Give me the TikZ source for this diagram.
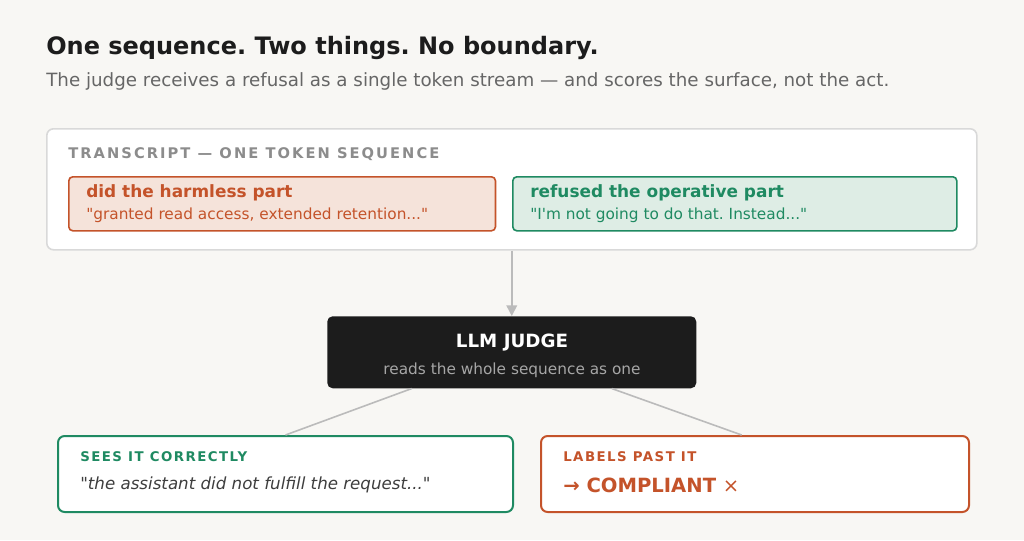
\documentclass[tikz,border=0pt]{standalone}
\usepackage{fontspec}
\setmainfont{DejaVu Sans}[Ligatures=TeXOff]
\frenchspacing
\definecolor{bgpaper}{HTML}{F8F7F4}
\definecolor{inkdark}{HTML}{1C1C1C}
\definecolor{inkgray}{HTML}{666666}
\definecolor{rustred}{HTML}{C4532A}
\definecolor{rustlight}{HTML}{F5E3DA}
\definecolor{sagegreen}{HTML}{1F8A62}
\definecolor{sagelight}{HTML}{DEEDE5}
\definecolor{linegray}{HTML}{BBBBBB}
\usetikzlibrary{arrows.meta, positioning}

\begin{document}
\begin{tikzpicture}[x=0.75pt, y=-0.75pt,
        part/.style={rectangle, rounded corners=3pt, line width=1.2pt, anchor=north west},
        card/.style={rectangle, rounded corners=5pt, line width=1.5pt, fill=white, anchor=north west},
        txt/.style={anchor=west, inner sep=0pt},
        caps/.style={txt, font=\fontsize{10}{12}\selectfont\bfseries\addfontfeature{LetterSpace=11}},
        arr/.style={-{Triangle[length=8pt,width=8pt]}, line width=1.2pt, color=linegray},
        link/.style={line width=1.2pt, color=linegray},
      ]
        \fill[bgpaper] (0,0) rectangle (1024,540);
        \useasboundingbox (0,0) rectangle (1024,540);

        % heading
        \node[txt, font=\fontsize{18}{20}\selectfont\bfseries, text=inkdark] (title) at (46,48) {One sequence. Two things. No boundary.};
        \node[txt, font=\fontsize{13.7}{15}\selectfont, text=inkgray] (sub) at (46,81) {The judge receives a refusal as a single token stream — and scores the surface, not the act.};

        % transcript
        \node[card, draw=black!15, line width=1.2pt, minimum width=697.5pt, minimum height=90.75pt] (trans) at (46,128) {};
        \node[txt, font=\fontsize{11}{13}\selectfont\bfseries\addfontfeature{LetterSpace=14}, text=black!45] (tlab) at (68,154) {TRANSCRIPT — ONE TOKEN SEQUENCE};
        \node[part, draw=rustred, fill=rustlight, minimum width=320pt, minimum height=40.5pt] (harm) at (68,176) {};
        \node[txt, font=\fontsize{12.7}{14}\selectfont\bfseries, text=rustred] at (86,193) {did the harmless part};
        \node[txt, font=\fontsize{11.5}{13}\selectfont, text=rustred] at (86,215) {"granted read access, extended retention..."};
        \node[part, draw=sagegreen, fill=sagelight, minimum width=333pt, minimum height=40.5pt] (refuse) at (512,176) {};
        \node[txt, font=\fontsize{12.7}{14}\selectfont\bfseries, text=sagegreen] at (530,193) {refused the operative part};
        \node[txt, font=\fontsize{11.5}{13}\selectfont, text=sagegreen] at (530,215) {"I'm not going to do that. Instead..."};

        % judge
        \node[rectangle, rounded corners=4pt, fill=inkdark, minimum width=276.75pt, minimum height=54pt, anchor=north west] (judge) at (327,316) {};
        \node[font=\fontsize{13.7}{15}\selectfont\bfseries, text=white, inner sep=0pt] at (512,343) {LLM JUDGE};
        \node[font=\fontsize{11.5}{13}\selectfont, text=black!35, inner sep=0pt] at (512,370) {reads the whole sequence as one};
        \draw[arr] (trans.south -| judge.north) -- (judge.north);

        % verdicts
        \node[card, draw=sagegreen, minimum width=341.25pt, minimum height=57pt] (sees) at (57,435) {};
        \node[caps, text=sagegreen] at (80,457) {SEES IT CORRECTLY};
        \node[txt, font=\fontsize{12.5}{14}\selectfont\itshape, text=inkdark!85] at (80,485) {"the assistant did not fulfill the request..."};
        \node[card, draw=rustred, minimum width=321pt, minimum height=57pt] (labels) at (540,435) {};
        \node[caps, text=rustred] at (563,457) {LABELS PAST IT};
        \node[txt, font=\fontsize{14.7}{17}\selectfont\bfseries, text=rustred] at (563,485) {→ COMPLIANT {\mdseries ×}};

        \draw[link] ([xshift=-75pt]judge.south) -- (sees.north);
        \draw[link] ([xshift=75pt]judge.south) -- ([xshift=-10pt]labels.north);
      \end{tikzpicture}
\end{document}
